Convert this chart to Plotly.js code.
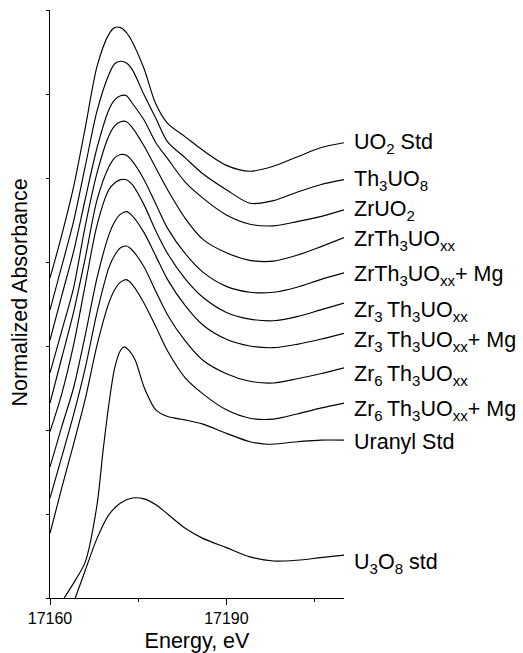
<!DOCTYPE html>
<html>
<head>
<meta charset="utf-8">
<script src="https://cdn.plot.ly/plotly-3.0.1.min.js"></script>
<style>html,body{margin:0;padding:0;background:#fff;}#chart{width:523px;height:653px;}</style>
</head>
<body>
<div id="chart"></div>
<script>
// Energy grid (eV) shared by the nine stacked spectra
const energy = [17160,17162,17164,17166,17168,17170,17171,17172,17173,17174,17176,17178,17180,17183,17186,17190,17194,17198,17202,17206,17210];

// Normalized absorbance (vertically offset)
const uo2Std      = [3.81,4.32,4.89,5.60,6.33,6.71,6.79,6.79,6.73,6.62,6.30,5.88,5.65,5.49,5.33,5.15,5.08,5.14,5.25,5.36,5.42];
const th3uo8      = [3.43,3.95,4.48,5.14,5.80,6.23,6.36,6.39,6.37,6.29,5.99,5.71,5.43,5.24,5.05,4.86,4.70,4.73,4.83,4.92,4.98];
const zruo2       = [3.07,3.60,4.12,4.75,5.36,5.81,5.93,5.98,5.98,5.89,5.69,5.42,5.23,4.95,4.76,4.56,4.45,4.43,4.48,4.54,4.62];
const zrth3       = [2.68,3.18,3.69,4.43,5.06,5.50,5.62,5.67,5.67,5.60,5.38,5.12,4.86,4.52,4.27,4.11,4.02,4.01,4.08,4.18,4.29];
const zrth3Mg     = [2.32,2.86,3.40,4.05,4.74,5.13,5.24,5.28,5.27,5.20,4.98,4.69,4.40,4.10,3.88,3.71,3.64,3.64,3.70,3.79,3.87];
const zr3th3      = [1.98,2.43,3.01,3.73,4.44,4.86,4.94,4.98,4.98,4.92,4.68,4.37,4.10,3.80,3.58,3.40,3.32,3.30,3.35,3.43,3.51];
const zr3th3Mg    = [1.56,2.04,2.50,3.13,3.81,4.32,4.48,4.57,4.60,4.55,4.35,4.07,3.79,3.48,3.25,3.08,3.00,2.98,3.02,3.08,3.15];
const zr6th3      = [1.19,1.68,2.18,2.74,3.40,3.93,4.08,4.17,4.19,4.14,3.94,3.65,3.37,3.06,2.83,2.67,2.58,2.56,2.61,2.67,2.74];
const zr6th3Mg    = [0.77,1.31,1.83,2.37,3.01,3.51,3.67,3.76,3.79,3.73,3.51,3.23,2.94,2.62,2.43,2.24,2.14,2.13,2.19,2.26,2.32];

const uranylEnergy = [17162.4,17164.3,17166,17168,17169,17170,17171,17172,17172.6,17173.4,17174.5,17176,17178,17180,17183,17186,17190,17194,17197,17202,17206,17210];
const uranylStd    = [0.00,0.21,0.43,1.11,1.74,2.30,2.74,2.95,2.99,2.95,2.83,2.51,2.24,2.16,2.12,2.07,1.96,1.86,1.83,1.86,1.88,1.88];

const u3o8Energy = [17164.3,17166,17168,17170,17172,17174,17176,17178,17180,17183,17186,17190,17194,17198,17202,17206,17210];
const u3o8Std    = [0.00,0.33,0.71,0.99,1.13,1.19,1.18,1.11,1.00,0.83,0.71,0.60,0.49,0.44,0.45,0.48,0.51];

const TS = '\u2009';
const labels = [
  "UO<sub>2</sub> Std",
  "Th<sub>3</sub>UO<sub>8</sub>",
  "ZrUO<sub>2</sub>",
  "ZrTh<sub>3</sub>UO<sub>xx</sub>",
  "ZrTh<sub>3</sub>UO<sub>xx</sub>+ Mg",
  "Zr<sub>3</sub>" + TS + "Th<sub>3</sub>UO<sub>xx</sub>",
  "Zr<sub>3</sub>" + TS + "Th<sub>3</sub>UO<sub>xx</sub>+ Mg",
  "Zr<sub>6</sub>" + TS + "Th<sub>3</sub>UO<sub>xx</sub>",
  "Zr<sub>6</sub>" + TS + "Th<sub>3</sub>UO<sub>xx</sub>+ Mg",
  "Uranyl Std",
  "U<sub>3</sub>O<sub>8</sub> std"
];

const series = [
  [energy, uo2Std], [energy, th3uo8], [energy, zruo2], [energy, zrth3], [energy, zrth3Mg],
  [energy, zr3th3], [energy, zr3th3Mg], [energy, zr6th3], [energy, zr6th3Mg],
  [uranylEnergy, uranylStd], [u3o8Energy, u3o8Std]
];

const FONT = "Liberation Sans, Arial, sans-serif";

const traces = series.map((s, i) => ({
  type: 'scatter', mode: 'lines', x: s[0], y: s[1],
  line: {color: '#000', width: 1.15, shape: 'spline', smoothing: 0.8},
  name: labels[i], showlegend: false, hoverinfo: 'skip'
}));

const labelShift = [-1,-1,-1,-3,-3,-8,-8,-8,-7,-2,-8];
const annotations = series.map((s, i) => ({
  xref: 'paper', yref: 'y', x: 1, y: s[1][s[1].length - 1],
  xanchor: 'left', yanchor: 'middle', xshift: 8, yshift: labelShift[i],
  text: labels[i], showarrow: false,
  font: {family: FONT, size: 21.5, color: '#000'}
}));
annotations.push({
  xref: 'paper', yref: 'paper', x: 0, y: 0.5196, xshift: -30,
  xanchor: 'center', yanchor: 'middle', textangle: -90, showarrow: false,
  text: 'Normalized Absorbance', font: {family: FONT, size: 21.5, color: '#000'}
});

const layout = {
  width: 523, height: 653,
  margin: {l: 50, r: 179, t: 10, b: 55},
  paper_bgcolor: '#fff', plot_bgcolor: '#fff',
  font: {family: FONT, color: '#000'},
  showlegend: false,
  xaxis: {
    range: [17160, 17210], showgrid: false, zeroline: false,
    showline: true, linecolor: '#000', linewidth: 1,
    ticks: 'outside', ticklen: 6, tickcolor: '#000', tickwidth: 1,
    tick0: 17160, dtick: 30, tickformat: 'd',
    tickfont: {family: FONT, size: 16, color: '#000'},
    minor: {tickmode: 'array', tickvals: [17175, 17205], ticks: 'outside', ticklen: 3, tickcolor: '#000', tickwidth: 1, showgrid: false},
    title: {text: 'Energy, eV', font: {family: FONT, size: 21.5, color: '#000'}, standoff: 8}
  },
  yaxis: {
    range: [0, 7], showgrid: false, zeroline: false,
    showline: true, linecolor: '#000', linewidth: 1,
    ticks: 'outside', ticklen: 3, tickcolor: '#000', tickwidth: 1,
    tick0: 0, dtick: 1, showticklabels: false
  },
  annotations: annotations
};

Plotly.newPlot('chart', traces, layout, {staticPlot: true, displayModeBar: false});
</script>
</body>
</html>
